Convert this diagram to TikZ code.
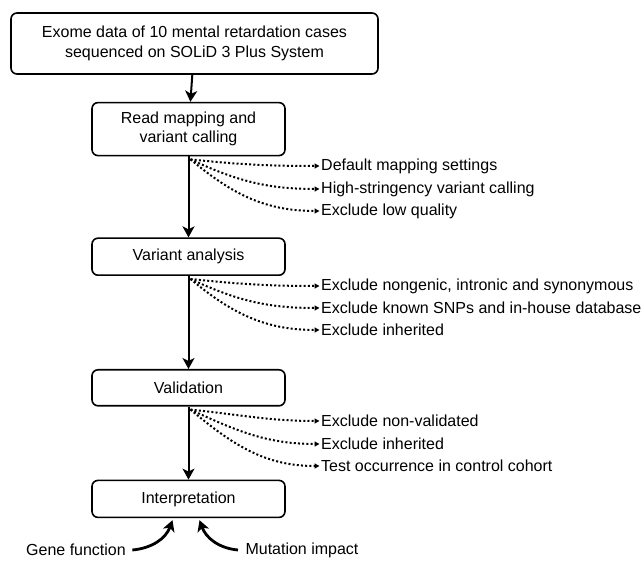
\documentclass[tikz,border=0pt]{standalone}
\usepackage{fontspec}
\setmainfont{Liberation Sans}
\usepackage{tikz}
\usetikzlibrary{arrows.meta,positioning}

\begin{document}
\begin{tikzpicture}[x=1pt,y=1pt,
  box node/.style={rectangle,rounded corners=6pt,draw,line width=1.6pt,align=center,minimum width=193pt,inner sep=0pt},
  note node/.style={anchor=west,inner sep=0pt},
  main arrow/.style={draw,line width=2pt,-{Stealth[length=11pt,width=12pt,inset=3pt]}},
  dot arrow/.style={draw,line width=2pt,dash pattern=on 2pt off 2.2pt,shorten >=1.5pt,-{Triangle[length=5pt,width=5pt]}},
  side arrow/.style={draw,line width=2.8pt,-{Stealth[length=11pt,width=12pt,inset=3pt]}},
  font=\fontsize{16}{19.5}\selectfont]

  \useasboundingbox (0,0) rectangle (643,561);

  \node[box node,minimum width=367pt,minimum height=61pt] (1) at (194.5,517.5) {Exome data of 10 mental retardation cases\\sequenced on SOLiD 3 Plus System};
  \node[box node,minimum height=53pt,below=27pt of 1,xshift=-6pt] (2) {Read mapping and\\variant calling};
  \node[box node,minimum height=37pt,below=81pt of 2] (3) {Variant analysis};
  \node[box node,minimum height=36pt,below=93pt of 3] (4) {Validation};
  \node[box node,minimum height=37pt,below=73pt of 4] (5) {Interpretation};

  % filters
  \node[note node] (2a) at (321,395) {Default mapping settings};
  \node[note node] (2b) at (321,372) {High-stringency variant calling};
  \node[note node] (2c) at (321,350) {Exclude low quality};
  \node[note node] (3a) at (321,275) {Exclude nongenic, intronic and synonymous};
  \node[note node] (3b) at (321,253) {Exclude known SNPs and in-house database};
  \node[note node] (3c) at (321,231) {Exclude inherited};
  \node[note node] (4a) at (321,140) {Exclude non-validated};
  \node[note node] (4b) at (321,117) {Exclude inherited};
  \node[note node] (4c) at (321,95) {Test occurrence in control cohort};

  \node (g) at (76,11) {Gene function};
  \node (m) at (302,11) {Mutation impact};

  \draw[main arrow] (1) -- (2);
  \draw[main arrow] (2) -- (3);
  \draw[main arrow] (3) -- (4);
  \draw[main arrow] (4) -- (5);

  \foreach \b in {2,3,4} {
    \draw[dot arrow] ([shift={(2pt,-3pt)}]\b.south) to[out=-6,in=180] (\b a.west);
    \draw[dot arrow] ([shift={(2pt,-3pt)}]\b.south) to[out=-25,in=180] (\b b.west);
    \draw[dot arrow] ([shift={(2pt,-3pt)}]\b.south) to[out=-40,in=180] (\b c.west);
  }

  \draw[side arrow] ([xshift=3pt]g.east) to[out=5,in=-110] ([shift={(-16pt,-2pt)}]5.south);
  \draw[side arrow] ([xshift=-4pt]m.west) to[out=175,in=-70] ([shift={(11pt,-2pt)}]5.south);
\end{tikzpicture}
\end{document}
